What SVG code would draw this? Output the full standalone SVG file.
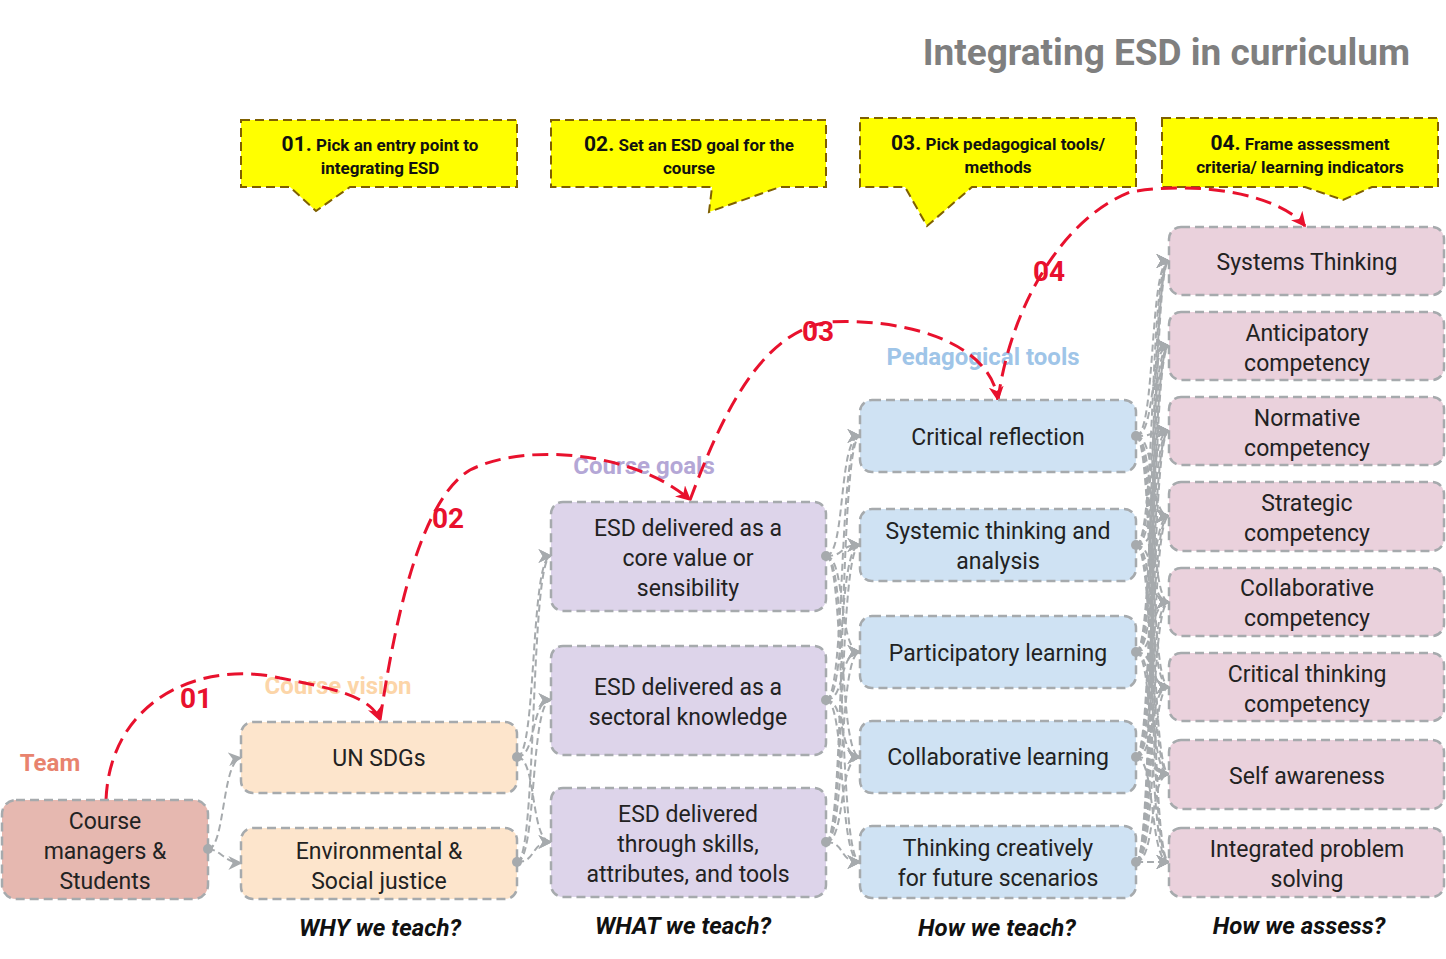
<svg xmlns="http://www.w3.org/2000/svg" width="1446" height="959" viewBox="0 0 1446 959">
<defs>
<marker id="ga" viewBox="0 0 10 10" refX="9" refY="5" markerWidth="7" markerHeight="7" orient="auto"><path d="M0,0 L10,5 L0,10 L3,5 Z" fill="#a6aaad"/></marker>
<marker id="ra" viewBox="0 0 10 10" refX="9" refY="5" markerWidth="5" markerHeight="5" orient="auto"><path d="M0,0 L10,5 L0,10 L3,5 Z" fill="#e8112d"/></marker>
</defs>
<style>
.n{stroke:#a6aaad;stroke-width:2.5;stroke-dasharray:9 5}
.t{font-family:Roboto,"Liberation Sans",sans-serif;font-size:23px;fill:#222;text-anchor:middle}
.c{fill:none;stroke:#a6aaad;stroke-width:2;stroke-dasharray:7 4;marker-end:url(#ga)}
.d{fill:#a6aaad}
.r{fill:none;stroke:#e8112d;stroke-width:3;stroke-dasharray:16 8;marker-end:url(#ra)}
.rl{font-family:Roboto,"Liberation Sans",sans-serif;font-size:28px;font-weight:bold;fill:#e8112d;text-anchor:middle}
.cat{font-family:Roboto,"Liberation Sans",sans-serif;font-size:24px;font-weight:bold;text-anchor:middle}
.y{fill:#ffff00;stroke:#7f6000;stroke-width:2;stroke-dasharray:9 5}
.yt{font-family:Roboto,"Liberation Sans",sans-serif;font-size:17px;font-weight:bold;fill:#111;text-anchor:middle}
.b{font-family:Roboto,"Liberation Sans",sans-serif;font-size:24px;font-weight:bold;font-style:italic;fill:#111;text-anchor:middle}
</style>
<rect width="1446" height="959" fill="#fff"/>
<text x="1410" y="65" text-anchor="end" font-family="Roboto,'Liberation Sans',sans-serif" font-size="37" font-weight="bold" fill="#7f7f7f">Integrating ESD in curriculum</text>

<g id="callouts">
<path class="y" d="M241,120 H517 V187 H350 L316,211 L290,187 H241 Z"/>
<text class="yt" x="380" y="151"><tspan font-size="21">01.</tspan> Pick an entry point to</text><text class="yt" x="380" y="174">integrating ESD</text>
<path class="y" d="M551,120 H826 V187 H780 L709,212 L712,187 H551 Z"/>
<text class="yt" x="689" y="151"><tspan font-size="21">02.</tspan> Set an ESD goal for the</text><text class="yt" x="689" y="174">course</text>
<path class="y" d="M860,118 H1136 V187 H972 L927,226 L905,187 H860 Z"/>
<text class="yt" x="998" y="150"><tspan font-size="21">03.</tspan> Pick pedagogical tools/</text><text class="yt" x="998" y="173">methods</text>
<path class="y" d="M1162,118 H1438 V187 H1372 L1343,200 L1305,187 H1162 Z"/>
<text class="yt" x="1300" y="150"><tspan font-size="21">04.</tspan> Frame assessment</text><text class="yt" x="1300" y="173">criteria/ learning indicators</text>
</g>

<g id="labels">
<text class="cat" x="50" y="771" fill="#e8836e">Team</text>
<text class="cat" x="338" y="694" fill="#fcd5a8">Course vision</text>
<text class="cat" x="644" y="474" fill="#b4a7d6">Course goals</text>
<text class="cat" x="983" y="365" fill="#9fc5e8">Pedagogical tools</text>
<text class="b" x="380" y="936">WHY we teach?</text>
<text class="b" x="683" y="934">WHAT we teach?</text>
<text class="b" x="997" y="936">How we teach?</text>
<text class="b" x="1299" y="934">How we assess?</text>
</g>

<g id="connectors">
<path class="c" d="M208,849 C225,849 222,760 241,758"/>
<path class="c" d="M208,849 C220,849 225,863 241,863"/>
<path class="c" d="M517,757 C537,757 530,556 551,556"/><path class="c" d="M517,757 C537,757 530,700 551,700"/><path class="c" d="M517,757 C537,757 530,842 551,842"/>
<path class="c" d="M517,862 C537,862 530,556 551,556"/><path class="c" d="M517,862 C537,862 530,700 551,700"/><path class="c" d="M517,862 C537,862 530,842 551,842"/>
<path class="c" d="M826,556 C846,556 838,436 860,436"/><path class="c" d="M826,556 C846,556 838,545 860,545"/><path class="c" d="M826,556 C846,556 838,652 860,652"/><path class="c" d="M826,556 C846,556 838,757 860,757"/><path class="c" d="M826,556 C846,556 838,862 860,862"/>
<path class="c" d="M826,700 C846,700 838,436 860,436"/><path class="c" d="M826,700 C846,700 838,545 860,545"/><path class="c" d="M826,700 C846,700 838,652 860,652"/><path class="c" d="M826,700 C846,700 838,757 860,757"/><path class="c" d="M826,700 C846,700 838,862 860,862"/>
<path class="c" d="M826,842 C846,842 838,436 860,436"/><path class="c" d="M826,842 C846,842 838,545 860,545"/><path class="c" d="M826,842 C846,842 838,652 860,652"/><path class="c" d="M826,842 C846,842 838,757 860,757"/><path class="c" d="M826,842 C846,842 838,862 860,862"/>
<g id="c45">
<path class="c" d="M1136,436 C1156,436 1149,261 1169,261"/><path class="c" d="M1136,436 C1156,436 1149,346 1169,346"/><path class="c" d="M1136,436 C1156,436 1149,431 1169,431"/><path class="c" d="M1136,436 C1156,436 1149,516 1169,516"/><path class="c" d="M1136,436 C1156,436 1149,602 1169,602"/><path class="c" d="M1136,436 C1156,436 1149,687 1169,687"/><path class="c" d="M1136,436 C1156,436 1149,774 1169,774"/><path class="c" d="M1136,436 C1156,436 1149,862 1169,862"/>
<path class="c" d="M1136,545 C1156,545 1149,261 1169,261"/><path class="c" d="M1136,545 C1156,545 1149,346 1169,346"/><path class="c" d="M1136,545 C1156,545 1149,431 1169,431"/><path class="c" d="M1136,545 C1156,545 1149,516 1169,516"/><path class="c" d="M1136,545 C1156,545 1149,602 1169,602"/><path class="c" d="M1136,545 C1156,545 1149,687 1169,687"/><path class="c" d="M1136,545 C1156,545 1149,774 1169,774"/><path class="c" d="M1136,545 C1156,545 1149,862 1169,862"/>
<path class="c" d="M1136,652 C1156,652 1149,261 1169,261"/><path class="c" d="M1136,652 C1156,652 1149,346 1169,346"/><path class="c" d="M1136,652 C1156,652 1149,431 1169,431"/><path class="c" d="M1136,652 C1156,652 1149,516 1169,516"/><path class="c" d="M1136,652 C1156,652 1149,602 1169,602"/><path class="c" d="M1136,652 C1156,652 1149,687 1169,687"/><path class="c" d="M1136,652 C1156,652 1149,774 1169,774"/><path class="c" d="M1136,652 C1156,652 1149,862 1169,862"/>
<path class="c" d="M1136,757 C1156,757 1149,261 1169,261"/><path class="c" d="M1136,757 C1156,757 1149,346 1169,346"/><path class="c" d="M1136,757 C1156,757 1149,431 1169,431"/><path class="c" d="M1136,757 C1156,757 1149,516 1169,516"/><path class="c" d="M1136,757 C1156,757 1149,602 1169,602"/><path class="c" d="M1136,757 C1156,757 1149,687 1169,687"/><path class="c" d="M1136,757 C1156,757 1149,774 1169,774"/><path class="c" d="M1136,757 C1156,757 1149,862 1169,862"/>
<path class="c" d="M1136,862 C1156,862 1149,261 1169,261"/><path class="c" d="M1136,862 C1156,862 1149,346 1169,346"/><path class="c" d="M1136,862 C1156,862 1149,431 1169,431"/><path class="c" d="M1136,862 C1156,862 1149,516 1169,516"/><path class="c" d="M1136,862 C1156,862 1149,602 1169,602"/><path class="c" d="M1136,862 C1156,862 1149,687 1169,687"/><path class="c" d="M1136,862 C1156,862 1149,774 1169,774"/><path class="c" d="M1136,862 C1156,862 1149,862 1169,862"/>
</g>
<path class="r" d="M106,800 C110,700 200,660 280,678 C330,688 370,695 380,720"/>
<path class="r" d="M380,720 C395,620 420,500 470,470 C530,440 640,455 690,500"/>
<path class="r" d="M690,500 C720,420 760,330 830,322 C900,318 990,340 998,400"/>
<path class="r" d="M998,400 C1010,310 1060,220 1130,192 C1200,180 1280,195 1305,226"/>
<text class="rl" x="196" y="708">01</text>
<text class="rl" x="448" y="528">02</text>
<text class="rl" x="818" y="341">03</text>
<text class="rl" x="1049" y="281">04</text>
</g>

<g id="team"><rect class="n" x="2" y="800" width="206" height="99" rx="14" fill="#e6b8b0"/><text class="t" x="105" y="829">Course</text><text class="t" x="105" y="859">managers &amp;</text><text class="t" x="105" y="889">Students</text></g>
<g id="sdgs"><rect class="n" x="241" y="722" width="276" height="71" rx="12" fill="#fde5cc"/><text class="t" x="379" y="766">UN SDGs</text></g>
<g id="justice"><rect class="n" x="241" y="828" width="276" height="71" rx="12" fill="#fde5cc"/><text class="t" x="379" y="859">Environmental &amp;</text><text class="t" x="379" y="889">Social justice</text></g>
<g id="g1"><rect class="n" x="551" y="502" width="275" height="109" rx="12" fill="#ddd4ea"/><text class="t" x="688" y="536">ESD delivered as a</text><text class="t" x="688" y="566">core value or</text><text class="t" x="688" y="596">sensibility</text></g>
<g id="g2"><rect class="n" x="551" y="646" width="275" height="109" rx="12" fill="#ddd4ea"/><text class="t" x="688" y="695">ESD delivered as a</text><text class="t" x="688" y="725">sectoral knowledge</text></g>
<g id="g3"><rect class="n" x="551" y="788" width="275" height="109" rx="12" fill="#ddd4ea"/><text class="t" x="688" y="822">ESD delivered</text><text class="t" x="688" y="852">through skills,</text><text class="t" x="688" y="882">attributes, and tools</text></g>
<g id="p1"><rect class="n" x="860" y="400" width="276" height="72" rx="12" fill="#cfe2f3"/><text class="t" x="998" y="445">Critical reflection</text></g>
<g id="p2"><rect class="n" x="860" y="509" width="276" height="72" rx="12" fill="#cfe2f3"/><text class="t" x="998" y="539">Systemic thinking and</text><text class="t" x="998" y="569">analysis</text></g>
<g id="p3"><rect class="n" x="860" y="616" width="276" height="72" rx="12" fill="#cfe2f3"/><text class="t" x="998" y="661">Participatory learning</text></g>
<g id="p4"><rect class="n" x="860" y="721" width="276" height="72" rx="12" fill="#cfe2f3"/><text class="t" x="998" y="765">Collaborative learning</text></g>
<g id="p5"><rect class="n" x="860" y="826" width="276" height="72" rx="12" fill="#cfe2f3"/><text class="t" x="998" y="856">Thinking creatively</text><text class="t" x="998" y="886">for future scenarios</text></g>
<g id="a1"><rect class="n" x="1169" y="227" width="275" height="68" rx="12" fill="#ead1dc"/><text class="t" x="1307" y="270">Systems Thinking</text></g>
<g id="a2"><rect class="n" x="1169" y="312" width="275" height="68" rx="12" fill="#ead1dc"/><text class="t" x="1307" y="341">Anticipatory</text><text class="t" x="1307" y="371">competency</text></g>
<g id="a3"><rect class="n" x="1169" y="397" width="275" height="68" rx="12" fill="#ead1dc"/><text class="t" x="1307" y="426">Normative</text><text class="t" x="1307" y="456">competency</text></g>
<g id="a4"><rect class="n" x="1169" y="482" width="275" height="69" rx="12" fill="#ead1dc"/><text class="t" x="1307" y="511">Strategic</text><text class="t" x="1307" y="541">competency</text></g>
<g id="a5"><rect class="n" x="1169" y="568" width="275" height="68" rx="12" fill="#ead1dc"/><text class="t" x="1307" y="596">Collaborative</text><text class="t" x="1307" y="626">competency</text></g>
<g id="a6"><rect class="n" x="1169" y="653" width="275" height="68" rx="12" fill="#ead1dc"/><text class="t" x="1307" y="682">Critical thinking</text><text class="t" x="1307" y="712">competency</text></g>
<g id="a7"><rect class="n" x="1169" y="740" width="275" height="69" rx="12" fill="#ead1dc"/><text class="t" x="1307" y="784">Self awareness</text></g>
<g id="a8"><rect class="n" x="1169" y="828" width="275" height="69" rx="12" fill="#ead1dc"/><text class="t" x="1307" y="857">Integrated problem</text><text class="t" x="1307" y="887">solving</text></g>

<g id="dots">
<circle class="d" cx="208" cy="849" r="5"/><circle class="d" cx="517" cy="757" r="5"/><circle class="d" cx="517" cy="862" r="5"/>
<circle class="d" cx="826" cy="556" r="5"/><circle class="d" cx="826" cy="700" r="5"/><circle class="d" cx="826" cy="842" r="5"/>
<circle class="d" cx="1136" cy="436" r="5"/><circle class="d" cx="1136" cy="545" r="5"/><circle class="d" cx="1136" cy="652" r="5"/><circle class="d" cx="1136" cy="757" r="5"/><circle class="d" cx="1136" cy="862" r="5"/>
</g>
</svg>
